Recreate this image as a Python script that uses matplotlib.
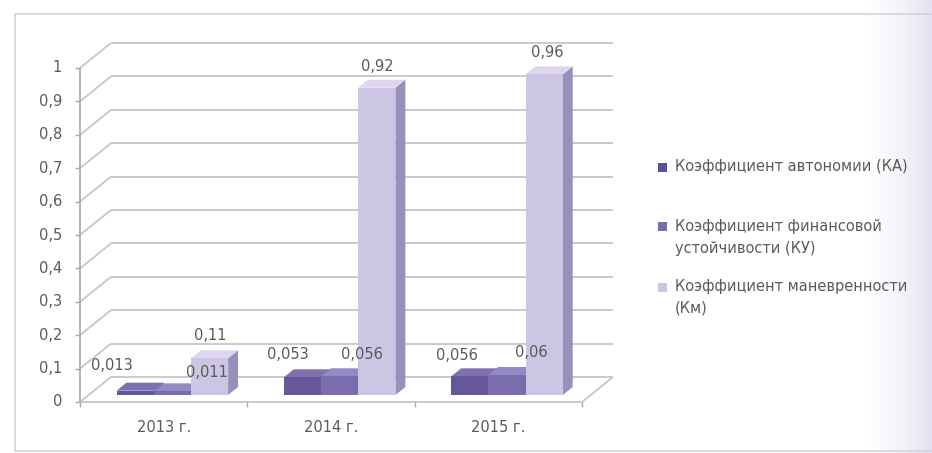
import numpy as np
import matplotlib
matplotlib.use("Agg")
import matplotlib.pyplot as plt
from matplotlib.patches import Polygon, Rectangle

# ---- data -------------------------------------------------------------
categories = ["2013 г.", "2014 г.", "2015 г."]
series_names = [
    "Коэффициент автономии (КА)",
    "Коэффициент финансовой\nустойчивости (КУ)",
    "Коэффициент маневренности\n(Км)",
]
ka_values = [0.013, 0.053, 0.056]
ky_values = [0.011, 0.056, 0.06]
km_values = [0.11, 0.92, 0.96]
value_ticks = [0, 0.1, 0.2, 0.3, 0.4, 0.5, 0.6, 0.7, 0.8, 0.9, 1]

series_values = [ka_values, ky_values, km_values]

# ---- styling ----------------------------------------------------------
plt.rcParams["font.family"] = ["DejaVu Sans"]
TEXT = "#5a5a5a"
GRID = "#c6c6c6"
AXIS = "#a8a8a8"
# (front, top, side) shades for each series
face_colors = [
    ("#65579a", "#7e71b0", "#4c4080"),
    ("#7b6cae", "#948ac3", "#5c5091"),
    ("#cdc5e4", "#ddd6ee", "#998fbb"),
]
legend_colors = ["#5f5190", "#7b6cae", "#cdc5e4"]

W, H = 932, 453
fig = plt.figure(figsize=(W / 100, H / 100), dpi=100)


def fx(px):
    return px / W


def fy(py):
    return 1 - py / H


# soft lavender tint along the right edge of the page
bg = fig.add_axes([fx(860), 0, fx(W) - fx(860), 1])
grad = np.linspace(0, 1, 200) ** 1.6
rgba = np.zeros((2, 200, 4))
rgba[..., 0] = 0.86
rgba[..., 1] = 0.84
rgba[..., 2] = 0.93
rgba[..., 3] = grad * 0.75
bg.imshow(rgba, aspect="auto", extent=[0, 1, 0, 1])
bg.axis("off")

# chart frame
fig.add_artist(Rectangle((fx(15), fy(451)), fx(945) - fx(15), fy(14) - fy(451),
                         transform=fig.transFigure, fill=False,
                         edgecolor="#d4d4d4", lw=1.2))

# ---- plotting area: front plane in category / value units -------------
ax = fig.add_axes([0, 0, 1, 1])
ax.patch.set_alpha(0)
X0, X3 = 80, 582          # front floor edge, pixels
Y0, Y1 = 402, 68          # value 0 and value 1 on the front plane, pixels
sx = (X3 - X0) / len(categories)
sy = Y0 - Y1
ax.set_xlim(-X0 / sx, (W - X0) / sx)
ax.set_ylim(-(H - Y0) / sy, Y0 / sy)
ax.axis("off")

DX = 31 / sx              # horizontal shift of the full floor depth
DY = 25 / sy              # vertical shift of the full floor depth
n_cat = len(categories)


def P(x, v, d):
    """Oblique projection of (category position, value, depth)."""
    return (x + d * DX, v + d * DY)


def line(p, q, **kw):
    ax.plot([p[0], q[0]], [p[1], q[1]], solid_capstyle="butt", **kw)


# walls: back-wall grid lines and side-wall diagonals
for v in value_ticks:
    line(P(0, v, 1), P(n_cat, v, 1), color=GRID, lw=1.3, zorder=1)
    line(P(0, v, 0), P(0, v, 1), color=GRID, lw=1.3, zorder=1)
# floor edges
line(P(0, 0, 0), P(n_cat, 0, 0), color=GRID, lw=1.3, zorder=1)
line(P(n_cat, 0, 0), P(n_cat, 0, 1), color=GRID, lw=1.3, zorder=1)
# value axis
line(P(0, 0, 0), P(0, value_ticks[-1], 0), color=AXIS, lw=1.2, zorder=2)

px_x = 1 / sx
px_y = 1 / sy
for v in value_ticks:
    line((-5 * px_x, v), (0, v), color=AXIS, lw=1.0, zorder=2)
    ax.text(-18 * px_x, v, f"{v:g}".replace(".", ","), ha="right", va="center",
            fontsize=10.5, color=TEXT)
for i in range(n_cat + 1):
    line((i, 0), (i, -5 * px_y), color=AXIS, lw=1.0, zorder=2)
for i, c in enumerate(categories):
    ax.text(i + 0.5, -26 * px_y, c, ha="center", va="center",
            fontsize=10.5, color=TEXT)

# ---- bars -------------------------------------------------------------
n_ser = len(series_values)
bar_w = 1 / (n_ser + 1.5)
start = (1 - n_ser * bar_w) / 2
DF, DB = 0.28, 0.6        # front and back depth of the bars

# label offsets in pixels from the back-top centre of each bar
label_offsets = [
    [(-33, 10), (25, 3), (-9, 7)],
    [(-25, 7), (12, 6), (-9, 6)],
    [(-23, 5), (14, 7), (-7, 6)],
]

for i in range(n_cat):
    for k in range(n_ser):
        v = series_values[k][i]
        x0 = i + start + k * bar_w
        x1 = x0 + bar_w
        front_c, top_c, side_c = face_colors[k]
        z = 3 + i * 10 + k
        side = [P(x1, 0, DF), P(x1, 0, DB), P(x1, v, DB), P(x1, v, DF)]
        top = [P(x0, v, DF), P(x1, v, DF), P(x1, v, DB), P(x0, v, DB)]
        front = [P(x0, 0, DF), P(x1, 0, DF), P(x1, v, DF), P(x0, v, DF)]
        ax.add_patch(Polygon(side, closed=True, fc=side_c, ec="none", zorder=z))
        ax.add_patch(Polygon(top, closed=True, fc=top_c, ec="none", zorder=z))
        ax.add_patch(Polygon(front, closed=True, fc=front_c, ec="none", zorder=z))

for i in range(n_cat):
    for k in range(n_ser):
        v = series_values[k][i]
        xc = i + start + (k + 0.5) * bar_w
        ox, oy = label_offsets[i][k]
        ax.annotate(f"{v:g}".replace(".", ","), xy=P(xc, v, DB),
                    xytext=(ox * 0.72, oy * 0.72), textcoords="offset points",
                    ha="center", va="bottom", fontsize=10.5, color=TEXT,
                    zorder=50)

# ---- legend -----------------------------------------------------------
legend_rows = [167, 227, 287]
for name, col, row in zip(series_names, legend_colors, legend_rows):
    fig.add_artist(Rectangle((fx(658), fy(row + 4.5)), fx(9), fy(0) - fy(9),
                             transform=fig.transFigure, fc=col, ec="none"))
    fig.text(fx(675), fy(row - 8), name, ha="left", va="top", fontsize=10.5,
             color=TEXT, linespacing=1.55)

fig.savefig("out.png", dpi=100)
